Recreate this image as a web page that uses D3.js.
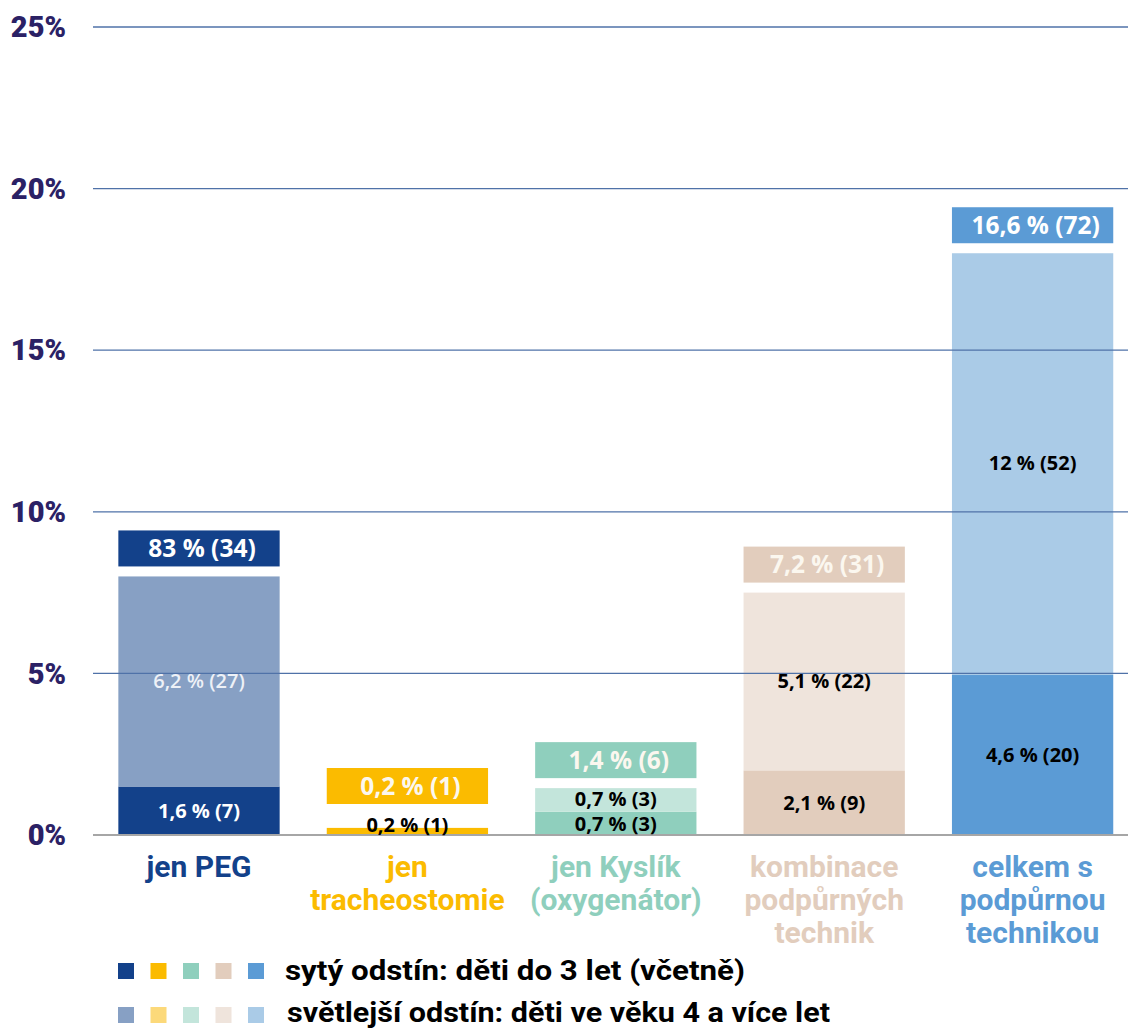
<!DOCTYPE html>
<html>
<head>
<meta charset="utf-8">
<script src="https://cdn.jsdelivr.net/npm/d3@7/dist/d3.min.js"></script>
<style>
  html, body { margin: 0; padding: 0; background: #fff; }
  svg { display: block; }
</style>
</head>
<body>
<svg id="chart" width="1128" height="1029"></svg>
<script>
const categories = ["jen PEG", "jen tracheostomie", "jen Kyslík (oxygenátor)", "kombinace podpůrných technik", "celkem s podpůrnou technikou"];
const categoryLines = [["jen PEG"], ["jen", "tracheostomie"], ["jen Kyslík", "(oxygenátor)"], ["kombinace", "podpůrných", "technik"], ["celkem s", "podpůrnou", "technikou"]];
const youngValues = [1.5, 0.22, 0.72, 2.0, 4.95];
const olderValues = [6.5, 0, 0.73, 5.5, 13.05];
const youngLabels = ["1,6 % (7)", "0,2 % (1)", "0,7 % (3)", "2,1 % (9)", "4,6 % (20)"];
const olderLabels = ["6,2 % (27)", "", "0,7 % (3)", "5,1 % (22)", "12 % (52)"];
const totalLabels = ["83 % (34)", "0,2 % (1)", "1,4 % (6)", "7,2 % (31)", "16,6 % (72)"];
const darkColors = ["#13418a", "#fbbb00", "#8fcfbd", "#e2cdbd", "#5b9bd5"];
const lightColors = ["#87a0c4", "#fcd97a", "#c3e5db", "#efe4dc", "#aacbe7"];
const yTicks = [0, 5, 10, 15, 20, 25];
const legendLabels = ["sytý odstín: děti do 3 let (včetně)", "světlejší odstín: děti ve věku 4 a více let"];

const svg = d3.select("#chart");
const y = d3.scaleLinear().domain([0, 25]).range([835, 27]);
const x = d3.scaleBand().domain(categories).range([94.8, 1136.8]).paddingInner(0.226).paddingOuter(0.113);
const bw = x.bandwidth();

const data = categories.map((c, i) => ({
  c, i, young: youngValues[i], older: olderValues[i], total: youngValues[i] + olderValues[i]
}));

// bars
const gBars = svg.append("g");
gBars.selectAll("rect.young").data(data).join("rect")
  .attr("class", "young")
  .attr("x", d => x(d.c)).attr("width", bw)
  .attr("y", d => y(d.young)).attr("height", d => y(0) - y(d.young))
  .attr("fill", d => darkColors[d.i]);
gBars.selectAll("rect.older").data(data.filter(d => d.older > 0)).join("rect")
  .attr("class", "older")
  .attr("x", d => x(d.c)).attr("width", bw)
  .attr("y", d => y(d.total)).attr("height", d => y(d.young) - y(d.total))
  .attr("fill", d => lightColors[d.i]);

// gridlines on top
const gGrid = svg.append("g");
gGrid.selectAll("line").data(yTicks.filter(t => t > 0)).join("line")
  .attr("x1", 93).attr("x2", 1128)
  .attr("y1", d => y(d)).attr("y2", d => y(d))
  .attr("stroke", "#4f72a8").attr("stroke-width", 1.3);
svg.append("line").attr("x1", 93).attr("x2", 1128).attr("y1", y(0)).attr("y2", y(0))
  .attr("stroke", "#a6a6a6").attr("stroke-width", 2);

// y tick labels
svg.append("g").selectAll("text").data(yTicks).join("text")
  .attr("x", 66).attr("y", d => y(d)).attr("dy", "0.35em")
  .attr("text-anchor", "end")
  .attr("font-family", "Roboto, 'Liberation Sans', sans-serif")
  .attr("font-weight", 900).attr("font-size", 29)
  .attr("fill", "#2b2165")
  .text(d => d + "%");

// total label boxes
const boxH = 36;
const boxBottom = d => Math.min(y(d.total) - 10, y(0) - 31);
const gBox = svg.append("g");
gBox.selectAll("rect").data(data).join("rect")
  .attr("x", d => x(d.c)).attr("width", bw)
  .attr("y", d => boxBottom(d) - boxH).attr("height", boxH)
  .attr("fill", d => darkColors[d.i]);
gBox.selectAll("text").data(data).join("text")
  .attr("x", d => x(d.c) + bw / 2 + 3).attr("y", d => boxBottom(d) - boxH / 2).attr("dy", "0.36em")
  .attr("text-anchor", "middle")
  .attr("font-family", "'Open Sans', sans-serif").attr("font-weight", 700).attr("font-size", 24.5)
  .attr("fill", d => d.i === 0 || d.i === 4 ? "#ffffff" : "#fbf7ef")
  .text(d => totalLabels[d.i]);

// inner labels
const innerFont = "'Open Sans', sans-serif";
svg.append("g").selectAll("text").data(data).join("text")
  .attr("x", d => x(d.c) + bw / 2)
  .attr("y", d => Math.min((y(0) + y(d.young)) / 2, y(0) - 10)).attr("dy", "0.36em")
  .attr("text-anchor", "middle")
  .attr("font-family", innerFont).attr("font-weight", 700).attr("font-size", 20)
  .attr("fill", d => d.i === 0 ? "#ffffff" : "#000000")
  .text(d => youngLabels[d.i]);
svg.append("g").selectAll("text").data(data.filter(d => d.older > 0)).join("text")
  .attr("x", d => x(d.c) + bw / 2)
  .attr("y", d => (y(d.young) + y(d.total)) / 2 - 1).attr("dy", "0.36em")
  .attr("text-anchor", "middle")
  .attr("font-family", innerFont).attr("font-weight", d => d.i === 0 ? 600 : 700).attr("font-size", 20)
  .attr("fill", d => d.i === 0 ? "#eef1f7" : "#000000")
  .text(d => olderLabels[d.i]);

// category labels
const gCat = svg.append("g");
data.forEach(d => {
  const t = gCat.append("text")
    .attr("text-anchor", "middle")
    .attr("font-family", "Roboto, sans-serif").attr("font-weight", 700).attr("font-size", 30)
    .attr("fill", darkColors[d.i]);
  categoryLines[d.i].forEach((line, k) => {
    t.append("tspan").attr("x", x(d.c) + bw / 2).attr("y", 866 + k * 33).attr("dy", "0.35em").text(line);
  });
});

// legend
const legendRows = [darkColors, lightColors];
const legendWidths = [460, 543];
const gLeg = svg.append("g");
legendRows.forEach((cols, r) => {
  const cy = 971 + r * 42;
  gLeg.selectAll("rect.r" + r).data(cols).join("rect")
    .attr("class", "r" + r)
    .attr("x", (c, k) => 118 + k * 32.5).attr("y", cy - 8 + r * 2).attr("width", 16).attr("height", 16)
    .attr("fill", c => c);
  gLeg.append("text").attr("x", 285 + r * 2).attr("y", cy).attr("dy", "0.35em")
    .attr("font-family", "Roboto, sans-serif").attr("font-weight", 700).attr("font-size", 27)
    .attr("textLength", legendWidths[r]).attr("lengthAdjust", "spacingAndGlyphs")
    .attr("fill", "#000").text(legendLabels[r]);
});
</script>
</body>
</html>
